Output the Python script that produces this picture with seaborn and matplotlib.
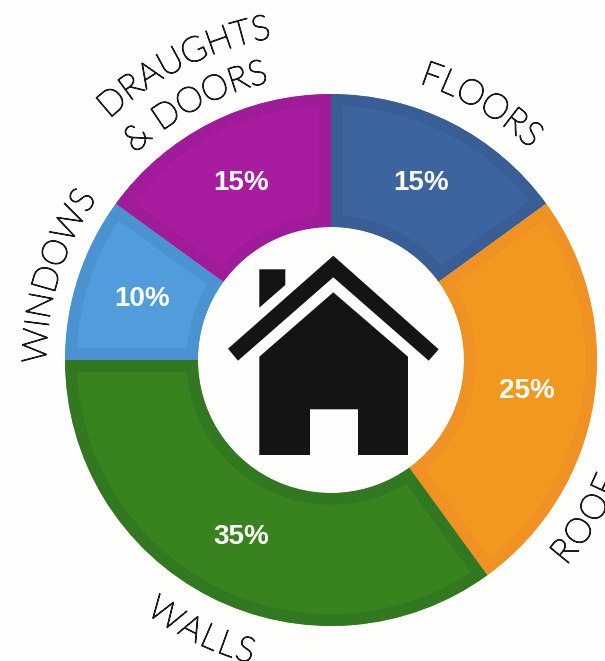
import numpy as np
import matplotlib
matplotlib.use("Agg")
import matplotlib.pyplot as plt
import matplotlib.patheffects as pe
from matplotlib.font_manager import FontProperties
from matplotlib.patches import Polygon
from matplotlib.textpath import text_to_path
import seaborn as sns

categories = ["FLOORS", "ROOF", "WALLS", "WINDOWS", "DRAUGHTS & DOORS"]
shares = [15, 25, 35, 10, 15]
fill_colours = ["#3C649E", "#F3981F", "#39831F", "#519DDC", "#A81CA0"]
rim_colours = ["#395E95", "#EF9223", "#327820", "#4B92D0", "#A01B9A"]

sns.set_theme(style="white")
W, H = 605, 661
fig = plt.figure(figsize=(W / 100, H / 100), dpi=100, facecolor="#FEFEFC")
ax = fig.add_axes([0, 0, 1, 1])
ax.set_xlim(0, W)
ax.set_ylim(0, H)
ax.set_aspect("equal")
ax.axis("off")

CX, CY = 331, H - 360
palette = sns.color_palette(fill_colours)
wedges, _, autotexts = ax.pie(
    shares, colors=palette, startangle=90, counterclock=False,
    center=(CX, CY), radius=266, autopct="%d%%", pctdistance=0.745,
    wedgeprops=dict(width=133), frame=True,
    textprops=dict(color="white", fontsize=20, fontweight="bold",
                   family="Liberation Sans"))
for w, rim in zip(wedges, rim_colours):
    w.set_edgecolor(rim)
    w.set_linewidth(17)
    w.set_clip_on(True)
    w.set_clip_path(w)
ax.set_xlim(0, W)
ax.set_ylim(0, H)
ax.set_axis_off()

# curved outer labels, set letter by letter along a circle
FS = 25
prop = FontProperties(family="Lato", weight="light", size=FS)
SIZE_PX = FS * 100 / 72
CAP = 0.72 * SIZE_PX
TRACK = 1.0


def advance(s):
    return text_to_path.get_text_width_height_descent(s, prop, False)[0] * 100 / 72 + TRACK * len(s) if s else 0


def curved(s, mid_deg, radius, top_out=True):
    total = advance(s)
    base_r = radius - CAP / 2 if top_out else radius + CAP / 2
    for i, ch in enumerate(s):
        if ch == " ":
            continue
        pos = advance(s[:i]) + advance(ch) / 2 - total / 2
        off = np.degrees(pos / radius)
        a = mid_deg + off if top_out else mid_deg - off
        t = np.radians(a)
        x = CX + base_r * np.sin(t)
        y = CY + base_r * np.cos(t)
        rot = -a if top_out else 180 - a
        ax.text(x, y, ch, fontproperties=prop, color="#1a1a1a", rotation=rot,
                rotation_mode="anchor", ha="center", va="baseline",
                path_effects=[pe.withStroke(linewidth=0.9, foreground="#1a1a1a")])


curved("FLOORS", 30.5, 303)
curved("ROOF", 122, 300, top_out=False)
curved("WALLS", 205.5, 301, top_out=False)
curved("WINDOWS", -73, 297)
curved("DRAUGHTS", -26.5, 340)
curved("& DOORS", -28, 297)

# house icon (pixel outline of the central pictogram)
ink = "#141414"


def poly(pts, **kw):
    ax.add_patch(Polygon([(x, H - y) for x, y in pts], closed=True, fc=ink, ec="none", **kw))


poly([(333.3, 255.7), (438.7, 349.3), (428.7, 360.7), (333.3, 277.3), (238, 360.7), (228, 348.7)])
poly([(259.3, 269.3), (285.3, 269.3), (285.3, 285), (259.3, 307.7)])
poly([(333.3, 292.3), (408, 356.7), (408, 455), (358, 455), (358, 409.3), (310, 409.3),
      (310, 455), (259.3, 455), (259.3, 356.7)])

fig.savefig("out.png", dpi=100, facecolor=fig.get_facecolor())
